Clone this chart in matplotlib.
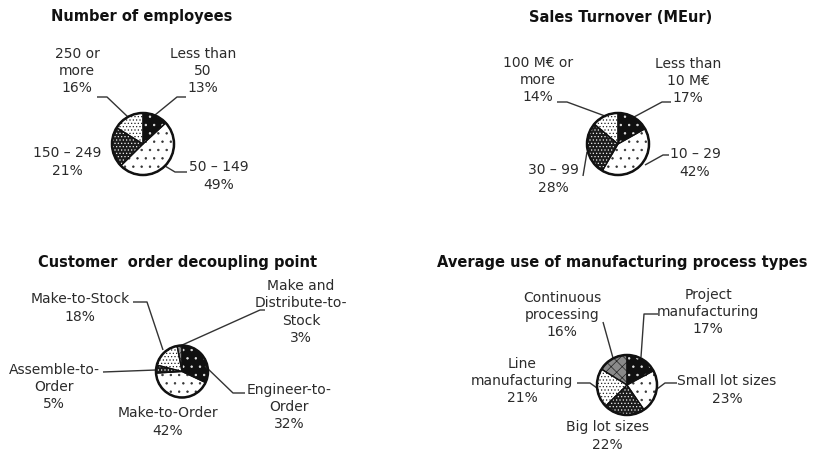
import numpy as np
import matplotlib.pyplot as plt
from matplotlib.patches import Circle

plt.rcParams["hatch.linewidth"] = 0.5

# ---- chart data -----------------------------------------------------------------
emp_cats = ["Less than\n50", "50 – 149", "150 – 249", "250 or\nmore"]
emp_vals = [13, 49, 21, 16]

sales_cats = ["Less than\n10 M€", "10 – 29", "30 – 99", "100 M€ or\nmore"]
sales_vals = [17, 42, 28, 14]

codp_cats = ["Engineer-to-\nOrder", "Make-to-Order", "Assemble-to-\nOrder",
             "Make-to-Stock", "Make and\nDistribute-to-\nStock"]
codp_vals = [32, 42, 5, 18, 3]

proc_cats = ["Project\nmanufacturing", "Small lot sizes", "Big lot sizes",
             "Line\nmanufacturing", "Continuous\nprocessing"]
proc_vals = [17, 23, 22, 21, 16]

titles = ["Number of employees", "Sales Turnover (MEur)",
          "Customer  order decoupling point", "Average use of manufacturing process types"]

# ---- styles (face colour, hatch, hatch colour) -----------------------------------
BLACK = ("#101010", "..", "#e8e8e8")
WHITE = ("white", "..", "#333333")
DARK = ("#1c1c1c", ".....", "#f0f0f0")
LIGHT = ("white", ".....", "#222222")
GREY = ("#8a8a8a", "xxx", "#222222")
styles4 = [BLACK, WHITE, DARK, LIGHT]
styles5 = [BLACK, WHITE, DARK, LIGHT, GREY]

W, H = 814, 454
fig = plt.figure(figsize=(W / 100, H / 100), dpi=100)
ax = fig.add_axes([0, 0, 1, 1])

TXT = "#2b2b2b"
LINE = "#333333"


def draw_pie(vals, center, r, styles):
    # y axis is inverted, so counterclock in data = clockwise on screen
    wedges, _ = ax.pie(vals, center=center, radius=r, startangle=-90,
                       counterclock=True, wedgeprops=dict(linewidth=0), frame=True)
    for w, (fc, hatch, hc) in zip(wedges, styles):
        w.set_facecolor(fc)
        w.set_hatch(hatch)
        w.set_edgecolor(hc)
    ax.pie(vals, center=center, radius=r, startangle=-90, counterclock=True,
           wedgeprops=dict(facecolor="none", edgecolor="#111111", linewidth=0.9),
           frame=True)
    ax.add_patch(Circle(center, r, fill=False, ec="#111111", lw=1.8, zorder=5))


def label(cat, val, xy):
    ax.text(xy[0], xy[1], f"{cat}\n{val}%", ha="center", va="center",
            multialignment="center", fontsize=10, color=TXT, linespacing=1.3)


def leader(pts):
    pts = np.array(pts)
    ax.plot(pts[:, 0], pts[:, 1], color=LINE, lw=1.0, solid_capstyle="butt")


# ---- chart 1 --------------------------------------------------------------------
draw_pie(emp_vals, (143, 144), 31, styles4)
for c, v, xy in zip(emp_cats, emp_vals, [(203, 71), (219, 176), (67, 162), (77, 71)]):
    label(c, v, xy)
leader([(155, 115), (177, 97), (186, 97)])
leader([(165, 166), (175, 172), (187, 172)])
leader([(128, 117), (107, 97), (97, 97)])

# ---- chart 2 --------------------------------------------------------------------
draw_pie(sales_vals, (618, 144), 31, styles4)
for c, v, xy in zip(sales_cats, sales_vals, [(688, 81), (695, 163), (553, 179), (538, 80)]):
    label(c, v, xy)
leader([(634, 117), (662, 102), (671, 102)])
leader([(645, 165), (663, 155), (669, 155)])
leader([(587, 152), (583, 176)])
leader([(605, 116), (567, 102), (557, 102)])

# ---- chart 3 --------------------------------------------------------------------
draw_pie(codp_vals, (182, 371.5), 26, styles5)
for c, v, xy in zip(codp_cats, codp_vals,
                    [(289, 407), (168, 422), (54, 387), (80, 308), (301, 312)]):
    label(c, v, xy)
leader([(205, 366), (233, 393), (245, 393)])
leader([(156, 370), (103, 372)])
leader([(163, 350), (147, 302), (133, 302)])
leader([(180, 346), (260, 310), (265, 310)])

# ---- chart 4 --------------------------------------------------------------------
draw_pie(proc_vals, (627, 385), 30, styles5)
for c, v, xy in zip(proc_cats, proc_vals,
                    [(708, 312), (727, 390), (607, 436), (522, 381), (562, 315)]):
    label(c, v, xy)
leader([(641, 357), (644, 314), (658, 314)])
leader([(657, 389), (665, 383), (677, 383)])
leader([(597, 388), (590, 383), (577, 383)])
leader([(613, 358), (603, 322)])

# ---- titles ---------------------------------------------------------------------
for t, xy in zip(titles, [(142, 17), (621, 18), (178, 263), (622, 263)]):
    ax.text(xy[0], xy[1], t, ha="center", va="center", fontsize=10.5,
            fontweight="bold", color="#111111")

ax.set_xlim(0, W)
ax.set_ylim(H, 0)
ax.set_aspect("equal")
ax.axis("off")

fig.savefig("out.png", dpi=100, facecolor="white")
